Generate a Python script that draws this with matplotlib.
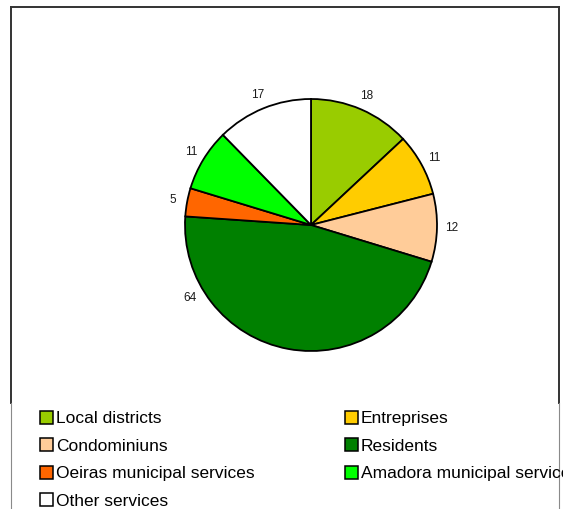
import matplotlib
matplotlib.use("Agg")
import numpy as np
import matplotlib.pyplot as plt
from matplotlib.lines import Line2D
from matplotlib.patches import Patch
from matplotlib.transforms import Bbox

plt.rcParams["font.family"] = ["Liberation Sans", "DejaVu Sans"]

categories = ["Local districts", "Entreprises", "Condominiuns", "Residents",
              "Oeiras municipal services", "Amadora municipal services",
              "Other services"]
values = [18, 11, 12, 64, 5, 11, 17]
colors = ["#99CC00", "#FFCC00", "#FFCC99", "#008000", "#FF6600", "#00FF00",
          "#FFFFFF"]

W, H = 575, 509
fig = plt.figure(figsize=(W / 100, H / 100), dpi=100)

# pie area: centre (311, 225) px, radius 126 px
cx, cy, r = 311, 225, 126
ax = fig.add_axes([(cx - r) / W, 1 - (cy + r) / H, 2 * r / W, 2 * r / H])
wedges, texts = ax.pie(values, colors=colors, startangle=90, counterclock=False,
                       labels=[str(v) for v in values], labeldistance=1.115,
                       wedgeprops=dict(edgecolor="black", linewidth=1.3),
                       textprops=dict(fontsize=8.5, color="#1a1a1a"))
for t in texts:
    t.set_ha("center")
    t.set_va("center")
# the large slice's label sits toward its lower-left side
ang = np.deg2rad(211)
texts[3].set_position((1.12 * np.cos(ang), 1.12 * np.sin(ang)))
ax.set_xlim(-1, 1)
ax.set_ylim(-1, 1)
ax.set_aspect("equal")
ax.axis("off")

# outer frame (open at the bottom)
def fx(x):
    return x / W

def fy(y):
    return 1 - y / H

dark = "#333333"
light = "#8a8a8a"
fig.add_artist(Line2D([fx(11), fx(559)], [fy(7), fy(7)], color=dark, lw=1.4,
                      transform=fig.transFigure))
for x in (11, 559):
    fig.add_artist(Line2D([fx(x), fx(x)], [fy(7), fy(403)], color=dark, lw=1.4,
                          transform=fig.transFigure))
    fig.add_artist(Line2D([fx(x), fx(x)], [fy(403), fy(509)], color=light,
                          lw=0.8, transform=fig.transFigure))

# legend, filled row by row
order = [0, 2, 4, 6, 1, 3, 5]
handles = [Patch(facecolor=colors[i], edgecolor="black", linewidth=1.1)
           for i in order]
labels = [categories[i] for i in order]
leg = fig.legend(handles, labels, ncol=2, loc="upper left",
                 bbox_to_anchor=(fx(40), fy(411)), frameon=False,
                 fontsize=12.5, handlelength=0.75, handleheight=0.75,
                 handletextpad=0.17, labelspacing=0.69, columnspacing=5.2,
                 borderpad=0, borderaxespad=0)
clip = Bbox.from_extents(0, 0, 563, H)
for t in leg.get_texts():
    t.set_clip_box(clip)
    t.set_clip_on(True)

fig.savefig("out.png", dpi=100)
